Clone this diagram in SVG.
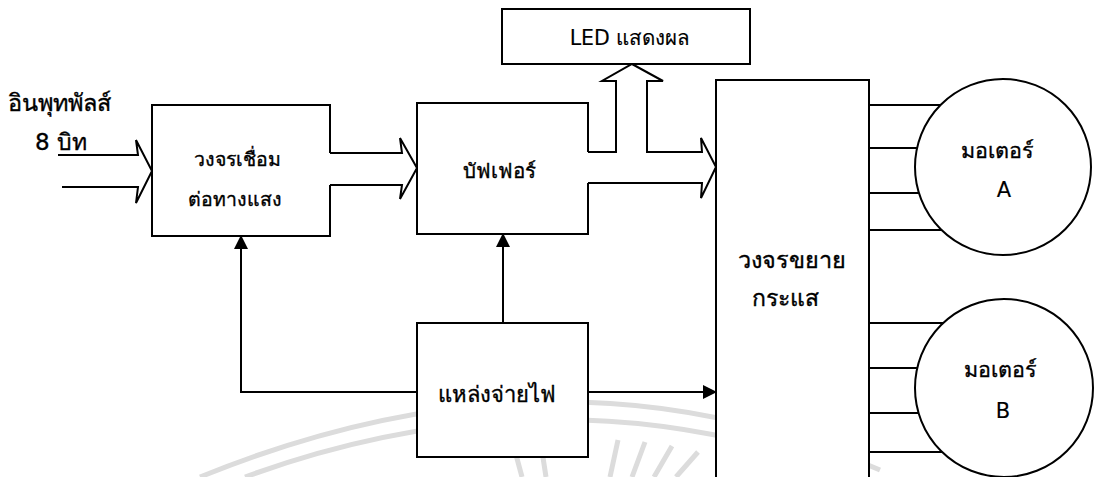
<svg xmlns="http://www.w3.org/2000/svg" width="1094" height="477" viewBox="0 0 1094 477">
<defs>
<style>
.ln{fill:none;stroke:#000;stroke-width:2;stroke-linejoin:miter}
.bx{fill:#fff;stroke:#000;stroke-width:2}
.t{font-family:"DejaVu Sans","Noto Sans",sans-serif;font-size:20px;fill:#000;stroke:#000;stroke-width:0.35}
.c{text-anchor:middle}
.wm{fill:none;stroke:#dcdcdc;stroke-width:5}
</style>
<marker id="tri" markerUnits="userSpaceOnUse" markerWidth="14" markerHeight="14" viewBox="0 0 14 14" refX="13" refY="7" orient="auto">
<path d="M0,0 L14,7 L0,14 Z" fill="#000"/>
</marker>
</defs>
<rect width="1094" height="477" fill="#fff"/>
<g id="watermark">
<path class="wm" d="M200,477 Q560,330 880,470"/>
<path class="wm" d="M245,477 Q560,362 860,477"/>
<path class="wm" d="M512,440 L522,477 M540,438 L546,477 M618,440 L610,477 M645,442 L632,477 M672,446 L654,477 M698,452 L676,477"/>
</g>
<g id="connectors">
<path class="ln" d="M58,155 H138 L136,140 L152,171 L136,203 L138,187 H62"/>
<path class="ln" d="M330,153 H402 L400,138 L417,168 L400,199 L402,185 H330"/>
<path class="ln" d="M588,152 H616 V81 H602 L632,64 L663,81 H647 V152 H702 L701,138 L716,167 L701,198 L702,183 H588"/>
<path class="ln" d="M417,392 H241 V236" marker-end="url(#tri)"/>
<path class="ln" d="M503,323 V234" marker-end="url(#tri)"/>
<path class="ln" d="M588,392 H716" marker-end="url(#tri)"/>
<path class="ln" d="M869,105 H960 M869,148 H960 M869,193 H960 M869,230 H960"/>
<path class="ln" d="M869,323 H960 M869,368 H960 M869,413 H960 M869,452 H960"/>
</g>
<g id="input-label">
<text class="t" x="8" y="111" style="font-size:23.5px">อินพุทพัลส์</text>
<text class="t" x="35" y="150" style="font-size:23px">8 บิท</text>
</g>
<g id="optocoupler">
<path class="ln" d="M330,153 V105 H152 V236 H330 V185"/>
<text class="t c" x="237" y="166" style="font-size:19.5px">วงจรเชื่อม</text>
<text class="t c" x="235" y="206" style="font-size:19.5px">ต่อทางแสง</text>
</g>
<g id="buffer">
<path class="ln" d="M588,152 V103 H417 V234 H588 V183"/>
<text class="t c" x="499" y="178" style="font-size:20.5px">บัฟเฟอร์</text>
</g>
<g id="led">
<rect class="bx" x="502" y="9" width="248" height="55"/>
<text class="t c" x="630" y="45" style="font-size:20.5px;stroke-width:0.15">LED แสดงผล</text>
</g>
<g id="amplifier">
<rect class="bx" x="716" y="80" width="153" height="410"/>
<text class="t c" x="792" y="268" style="font-size:23.5px">วงจรขยาย</text>
<text class="t c" x="785" y="306" style="font-size:23px">กระแส</text>
</g>
<g id="power">
<rect class="bx" x="417" y="323" width="171" height="134"/>
<text class="t c" x="497" y="402" style="font-size:22px">แหล่งจ่ายไฟ</text>
</g>
<g id="motorA">
<circle class="bx" cx="1003" cy="167" r="88"/>
<text class="t c" x="997" y="158" style="font-size:21.5px">มอเตอร์</text>
<text class="t c" x="1004" y="197" style="font-size:21px;stroke-width:0.15">A</text>
</g>
<g id="motorB">
<circle class="bx" cx="1004" cy="388" r="89"/>
<text class="t c" x="1000" y="377" style="font-size:21.5px">มอเตอร์</text>
<text class="t c" x="1003" y="418" style="font-size:21px;stroke-width:0.15">B</text>
</g>
</svg>
